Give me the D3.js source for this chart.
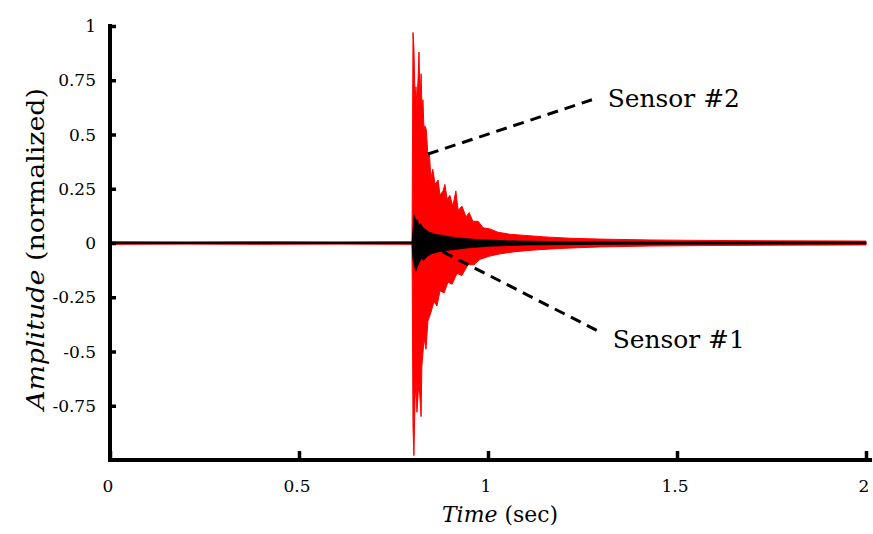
<!DOCTYPE html>
<html>
<head>
<meta charset="utf-8">
<script src="https://cdn.jsdelivr.net/npm/d3@7"></script>
<style>
    body { margin: 0; background: #fff; }
</style>
</head>
<body>
<div id="chart"></div>
<script>
// envelope of sensor #2 (red): [time, amplitude]
const sensor2Upper = [
    [0, 0.006], [0.2, 0.005], [0.4, 0.006], [0.6, 0.005], [0.799, 0.006],
    [0.8016, 0.97], [0.804, 0.90], [0.807, 0.66], [0.8095, 0.72], [0.812, 0.62],
    [0.815, 0.76], [0.8175, 0.88], [0.820, 0.66], [0.823, 0.78], [0.825, 0.64],
    [0.828, 0.66], [0.831, 0.50], [0.833, 0.54], [0.837, 0.52], [0.841, 0.40],
    [0.845, 0.41], [0.849, 0.30], [0.854, 0.34], [0.860, 0.27], [0.868, 0.29],
    [0.873, 0.22], [0.881, 0.24], [0.886, 0.27], [0.892, 0.20], [0.899, 0.22],
    [0.907, 0.17], [0.915, 0.24], [0.921, 0.15], [0.931, 0.17], [0.942, 0.12],
    [0.950, 0.14], [0.960, 0.10], [0.974, 0.10], [0.987, 0.07], [1.005, 0.065],
    [1.026, 0.05], [1.058, 0.04], [1.098, 0.035], [1.151, 0.028], [1.217, 0.022],
    [1.296, 0.018], [1.429, 0.014], [1.561, 0.012], [1.772, 0.010], [2.0, 0.009]
]
const sensor2Lower = [
    [0, -0.006], [0.2, -0.005], [0.4, -0.006], [0.6, -0.005], [0.799, -0.006],
    [0.8016, -0.85], [0.804, -0.98], [0.807, -0.72], [0.8095, -0.64], [0.812, -0.78],
    [0.815, -0.70], [0.8175, -0.64], [0.823, -0.80], [0.825, -0.57], [0.831, -0.44],
    [0.836, -0.49], [0.841, -0.36], [0.849, -0.32], [0.857, -0.27], [0.865, -0.29],
    [0.873, -0.22], [0.884, -0.23], [0.894, -0.18], [0.905, -0.19], [0.918, -0.14],
    [0.931, -0.15], [0.947, -0.10], [0.963, -0.10], [0.979, -0.075], [1.005, -0.06],
    [1.032, -0.05], [1.071, -0.04], [1.124, -0.032], [1.190, -0.025], [1.296, -0.018],
    [1.429, -0.014], [1.561, -0.012], [1.772, -0.010], [2.0, -0.009]
]

// envelope of sensor #1 (black)
const sensor1Upper = [
    [0, 0.003], [0.799, 0.003], [0.8016, 0.06], [0.805, 0.13], [0.809, 0.10],
    [0.813, 0.11], [0.817, 0.08], [0.822, 0.09], [0.828, 0.07], [0.836, 0.06],
    [0.845, 0.05], [0.86, 0.04], [0.88, 0.035], [0.9, 0.028], [0.93, 0.022],
    [0.97, 0.016], [1.05, 0.01], [1.2, 0.006], [1.5, 0.005], [2.0, 0.004]
]
const sensor1Lower = [
    [0, -0.003], [0.799, -0.003], [0.8016, -0.08], [0.805, -0.10], [0.809, -0.13],
    [0.813, -0.11], [0.818, -0.09], [0.824, -0.07], [0.83, -0.08], [0.84, -0.06],
    [0.85, -0.05], [0.87, -0.04], [0.9, -0.032], [0.95, -0.022], [1.0, -0.015],
    [1.1, -0.009], [1.3, -0.006], [1.6, -0.005], [2.0, -0.004]
]

const xTicks = [0, 0.5, 1, 1.5, 2]
const yTicks = [1, 0.75, 0.5, 0.25, 0, -0.25, -0.5, -0.75]

// annotations: line start, line end and label anchor, in data units
const annotations = [
    { label: 'Sensor #2', from: [0.841, 0.41], to: [1.275, 0.66], at: [1.317, 0.625] },
    { label: 'Sensor #1', from: [0.88, -0.04], to: [1.296, -0.41], at: [1.33, -0.485] },
]

const width = 873
const height = 534
const serif = '"DejaVu Serif", serif'

const svg = d3.select('#chart')
    .append('svg')
    .attr('width', width)
    .attr('height', height)
    .style('font-family', serif)

const xScale = d3.scaleLinear()
    .domain([0, 2])
    .range([110, 866])

const yScale = d3.scaleLinear()
    .domain([-1, 1])
    .range([460, 26])

const envelope = d3.line()
    .x(d => xScale(d[0]))
    .y(d => yScale(d[1]))

function drawSignal(upper, lower, color, sw) {
    const outline = upper.concat(lower.slice().reverse())
    svg.append('path')
        .attr('d', envelope(outline) + 'Z')
        .attr('fill', color)
        .attr('stroke', color)
        .attr('stroke-width', sw)
}

drawSignal(sensor2Upper, sensor2Lower, '#ff0000', 1)
drawSignal(sensor1Upper, sensor1Lower, '#000000', 0.8)

// axes
const yAxis = d3.axisRight(yScale)
    .tickValues(yTicks)
    .tickSize(6)
    .tickFormat('')

const yAxisGroup = svg.append('g')
    .attr('transform', `translate(${xScale(0)},0)`)
    .call(yAxis)

yAxisGroup.select('.domain').remove()
yAxisGroup.selectAll('line')
    .attr('stroke', '#000')
    .attr('stroke-width', 3.5)

svg.append('line')
    .attr('x1', xScale(0)).attr('x2', xScale(0))
    .attr('y1', yScale(1) - 2).attr('y2', yScale(-1) + 2)
    .attr('stroke', '#000')
    .attr('stroke-width', 4)

svg.selectAll('.y-label')
    .data(yTicks)
    .enter().append('text')
    .attr('class', 'y-label')
    .attr('x', 96)
    .attr('y', d => yScale(d) + 6)
    .attr('text-anchor', 'end')
    .style('font-size', '17px')
    .text(d => d)

const xAxis = d3.axisTop(xScale)
    .tickValues(xTicks)
    .tickSize(9)
    .tickFormat('')

const xAxisGroup = svg.append('g')
    .attr('transform', `translate(0,${yScale(-1)})`)
    .call(xAxis)

xAxisGroup.select('.domain').remove()
xAxisGroup.selectAll('line')
    .attr('stroke', '#000')
    .attr('stroke-width', 3.5)

svg.append('line')
    .attr('x1', xScale(0) - 2).attr('x2', xScale(2.016))
    .attr('y1', yScale(-1)).attr('y2', yScale(-1))
    .attr('stroke', '#000')
    .attr('stroke-width', 4)

svg.selectAll('.x-label')
    .data(xTicks)
    .enter().append('text')
    .attr('class', 'x-label')
    .attr('x', d => xScale(d) - 2)
    .attr('y', 492)
    .attr('text-anchor', 'middle')
    .style('font-size', '17px')
    .text(d => d)

// axis titles
const xTitle = svg.append('text')
    .attr('x', 500)
    .attr('y', 522)
    .attr('text-anchor', 'middle')
    .attr('textLength', 116)
    .attr('lengthAdjust', 'spacingAndGlyphs')
    .style('font-size', '23px')
xTitle.append('tspan').style('font-style', 'italic').text('Time')
xTitle.append('tspan').text(' (sec)')

const yTitle = svg.append('text')
    .attr('transform', 'translate(44,249) rotate(-90)')
    .attr('text-anchor', 'middle')
    .attr('textLength', 322)
    .attr('lengthAdjust', 'spacingAndGlyphs')
    .style('font-size', '25px')
yTitle.append('tspan').style('font-style', 'italic').text('Amplitude')
yTitle.append('tspan').text(' (normalized)')

// annotations
svg.selectAll('.annot-line')
    .data(annotations)
    .enter().append('line')
    .attr('class', 'annot-line')
    .attr('x1', d => xScale(d.from[0]))
    .attr('y1', d => yScale(d.from[1]))
    .attr('x2', d => xScale(d.to[0]))
    .attr('y2', d => yScale(d.to[1]))
    .attr('stroke', '#000')
    .attr('stroke-width', 3)
    .attr('stroke-dasharray', '11 7')

svg.selectAll('.annot-label')
    .data(annotations)
    .enter().append('text')
    .attr('class', 'annot-label')
    .attr('x', d => xScale(d.at[0]))
    .attr('y', d => yScale(d.at[1]))
    .attr('textLength', 132)
    .attr('lengthAdjust', 'spacingAndGlyphs')
    .style('font-size', '25px')
    .text(d => d.label)
</script>
</body>
</html>
